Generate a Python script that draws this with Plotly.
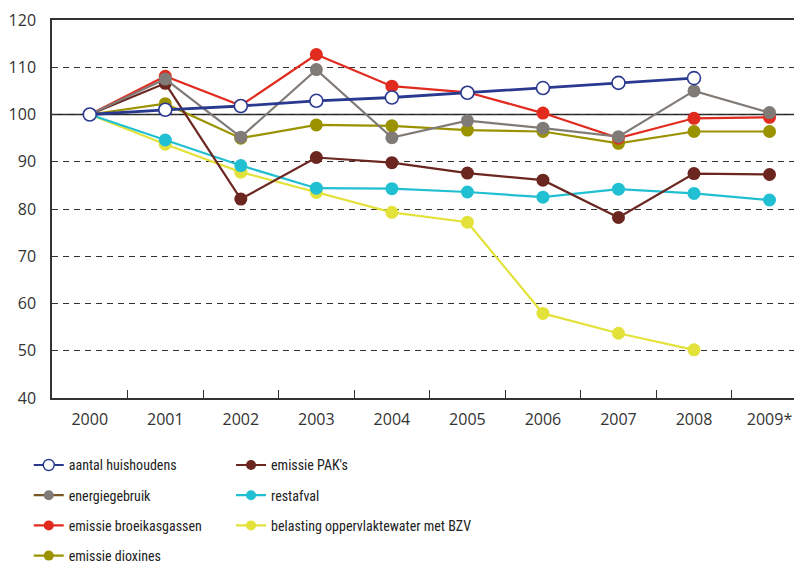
import plotly.graph_objects as go

years = ["2000", "2001", "2002", "2003", "2004", "2005", "2006", "2007", "2008", "2009*"]

aantal_huishoudens = [100, 101.0, 101.8, 102.9, 103.6, 104.6, 105.6, 106.7, 107.7, None]
energiegebruik = [100, 107.5, 95.2, 109.5, 95.1, 98.7, 97.1, 95.3, 105.0, 100.4]
emissie_broeikasgassen = [100, 108.1, 101.9, 112.7, 106.0, 104.7, 100.3, 95.0, 99.2, 99.4]
emissie_dioxines = [100, 102.3, 95.0, 97.8, 97.6, 96.7, 96.4, 93.9, 96.4, 96.4]
emissie_pak = [100, 106.6, 82.1, 90.9, 89.8, 87.6, 86.1, 78.2, 87.5, 87.3]
restafval = [100, 94.6, 89.2, 84.4, 84.3, 83.6, 82.5, 84.2, 83.3, 81.9]
belasting_bzv = [100, 93.7, 87.8, 83.5, 79.3, 77.2, 57.9, 53.7, 50.2, None]

TICK_FONT = "Open Sans, Noto Sans, sans-serif"
LEG_FONT = "Liberation Sans Narrow, Roboto Condensed, Arial Narrow, Roboto, sans-serif"

# (name, values, line colour, marker fill, legend-line colour, legend, rank, open marker)
series = [
    ("belasting oppervlaktewater met BZV", belasting_bzv, "#e3e23b", "#e3e23b", "#e3e23b", "legend2", 3, False),
    ("restafval", restafval, "#21bfd2", "#21bfd2", "#21bfd2", "legend2", 2, False),
    ("emissie dioxines", emissie_dioxines, "#9b9200", "#9b9200", "#9b9200", "legend", 4, False),
    ("emissie PAK's", emissie_pak, "#6b2620", "#6b2620", "#6b2620", "legend2", 1, False),
    ("emissie broeikasgassen", emissie_broeikasgassen, "#e22b1f", "#e22b1f", "#e22b1f", "legend", 3, False),
    ("energiegebruik", energiegebruik, "#807b76", "#807b76", "#7a5526", "legend", 2, False),
    ("aantal huishoudens", aantal_huishoudens, "#2a3990", "white", "#2a3990", "legend", 1, True),
]

fig = go.Figure()
for name, vals, lc, mc, legc, leg, rank, opn in series:
    fig.add_trace(go.Scatter(
        x=years, y=vals, name=name, mode="lines+markers",
        line=dict(color=lc, width=2.8 if opn else 2.2),
        marker=dict(size=13, color=mc, line=dict(color=lc, width=1.6 if opn else 0)),
        showlegend=False, connectgaps=False,
    ))
# legend entries (no data, only the legend symbol)
for name, vals, lc, mc, legc, leg, rank, opn in series:
    fig.add_trace(go.Scatter(
        x=[None], y=[None], name=name, mode="lines+markers",
        line=dict(color=legc, width=2.2),
        marker=dict(size=11 if opn else 10, color=mc, line=dict(color=lc, width=1.4 if opn else 0)),
        legend=leg, legendrank=rank, legendgroup=name, showlegend=True,
    ))

fig.add_hline(y=100, line=dict(color="#222222", width=1.6), layer="below")

legend_common = dict(
    orientation="v", yanchor="top", xanchor="left",
    font=dict(family=LEG_FONT, size=14, color="#222222"),
    bgcolor="rgba(0,0,0,0)", tracegroupgap=9, itemsizing="trace",
    itemwidth=30,
)
fig.update_layout(
    width=794, height=559,
    margin=dict(l=44, r=0, t=12, b=169, autoexpand=False),
    plot_bgcolor="white", paper_bgcolor="white",
    font=dict(family=TICK_FONT, size=16, color="#333333"),
    showlegend=True,
    legend=dict(x=-0.031, y=-0.136, **legend_common),
    legend2=dict(x=0.2387, y=-0.136, **legend_common),
    xaxis=dict(
        type="category", range=[-0.5, 9.43],
        showline=True, linecolor="#333333", linewidth=1.5, mirror=True,
        showgrid=False, ticks="inside", tickson="boundaries", ticklen=8,
        tickcolor="#333333", tickwidth=1.3, automargin=False,
        tickfont=dict(family=TICK_FONT, size=16, color="#333333"),
        ticklabelstandoff=6,
        zeroline=False,
    ),
    yaxis=dict(
        range=[40, 120], dtick=10, tick0=40,
        showline=True, linecolor="#333333", linewidth=1.5,
        showgrid=True, gridcolor="#333333", gridwidth=1.2, griddash="6px,5px",
        ticks="", zeroline=False, automargin=False,
        ticklabelstandoff=11,
        tickfont=dict(family=TICK_FONT, size=16, color="#333333"),
    ),
)

fig.write_html("out.html")
